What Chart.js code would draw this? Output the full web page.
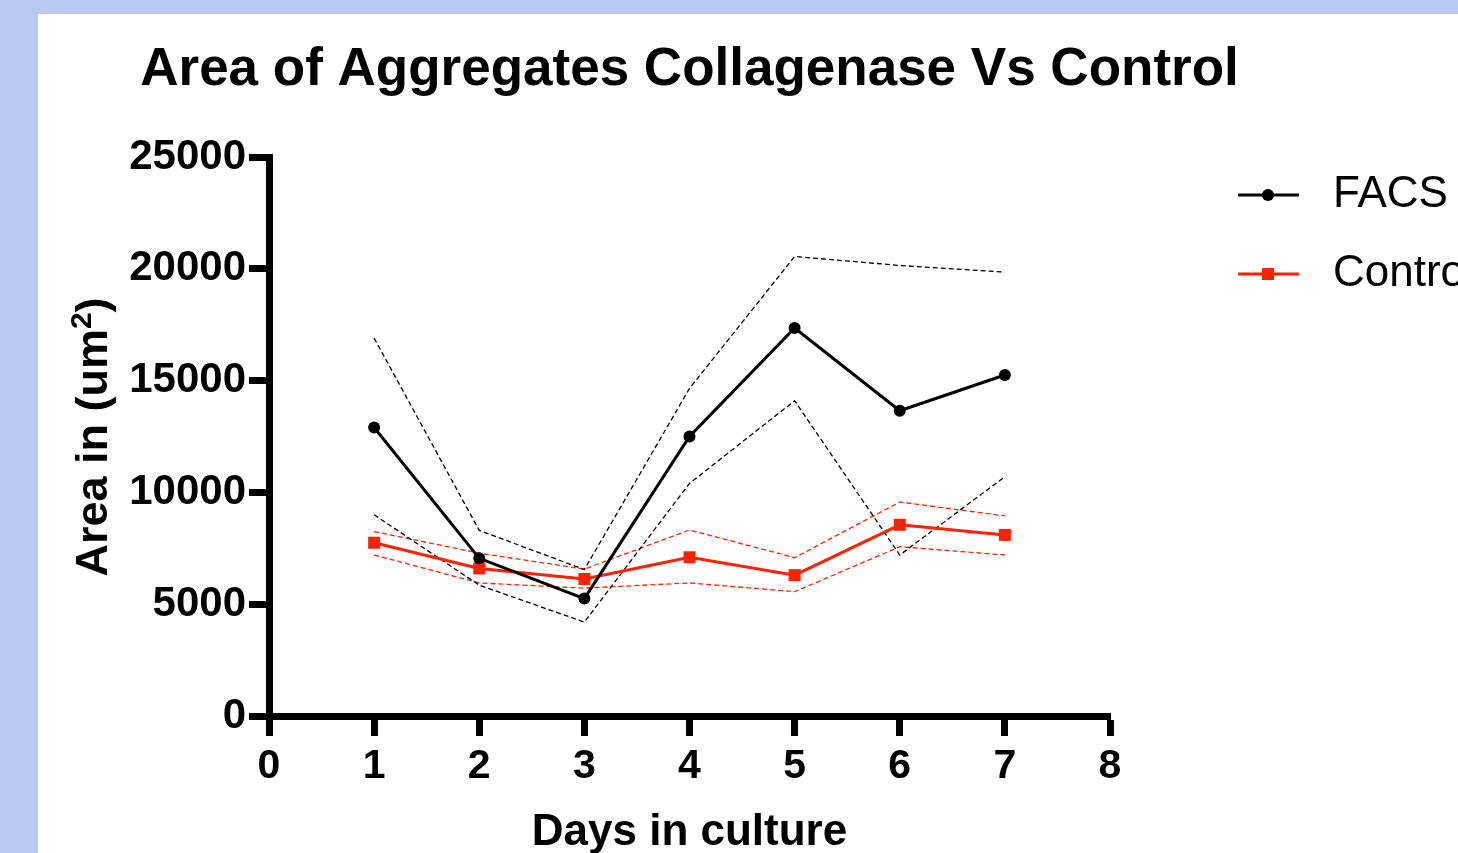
<!DOCTYPE html>
<html>
<head>
<meta charset="utf-8">
<script src="https://cdn.jsdelivr.net/npm/chart.js@4"></script>
<style>
  body { margin: 0; background: #b9c9f2; overflow: hidden; }
  canvas { display: block; }
</style>
</head>
<body>
<canvas id="aggChart" width="1458" height="853"></canvas>
<script>
// values
const days = [1, 2, 3, 4, 5, 6, 7];
const facsMean  = [12900, 7050, 5250, 12500, 17350, 13650, 15250];
const facsUpper = [16900, 8300, 6550, 14650, 20550, 20150, 19850];
const facsLower = [9000, 5850, 4200, 10400, 14100, 7200, 10700];
const ctrlMean  = [7750, 6600, 6130, 7100, 6300, 8550, 8100];
const ctrlUpper = [8250, 7280, 6570, 8320, 7080, 9570, 8950];
const ctrlLower = [7200, 5950, 5720, 5950, 5560, 7570, 7200];
const xTicks = [0, 1, 2, 3, 4, 5, 6, 7, 8];
const yTicks = [0, 5000, 10000, 15000, 20000, 25000];
const seriesNames = ['FACS', 'Control'];

const BLACK = '#000000';
const RED = '#ff2200';
const FONT = '"Liberation Sans", Arial, sans-serif';

function pts(arr) {
  return arr.map((v, i) => ({ x: days[i], y: v }));
}

function band(arr, color, order) {
  return {
    data: pts(arr),
    borderColor: color,
    borderWidth: 1.3,
    borderDash: [5, 3],
    pointRadius: 0,
    fill: false,
    order: order
  };
}

// background frame + titles + legend drawn by hand
const decor = {
  id: 'decor',
  beforeDraw(chart) {
    const c = chart.ctx;
    c.save();
    c.fillStyle = '#b9c9f2';
    c.fillRect(0, 0, chart.width, chart.height);
    c.fillStyle = '#ffffff';
    c.fillRect(38, 14, chart.width - 38, chart.height - 14);
    c.restore();
  },
  afterDraw(chart) {
    const c = chart.ctx;
    const area = chart.chartArea;
    const mid = (area.left + area.right) / 2;
    c.save();
    c.fillStyle = BLACK;
    c.textAlign = 'center';
    c.textBaseline = 'alphabetic';
    c.font = 'bold 53px ' + FONT;
    c.fillText('Area of Aggregates Collagenase Vs Control', mid, 85);

    c.font = 'bold 44px ' + FONT;
    c.fillText('Days in culture', mid, 845);

    // y title with superscript
    c.translate(107, 437);
    c.rotate(-Math.PI / 2);
    c.textAlign = 'left';
    const big = 'bold 45px ' + FONT;
    const small = 'bold 30px ' + FONT;
    c.font = big;
    const w1 = c.measureText('Area in (um').width;
    const w3 = c.measureText(')').width;
    c.font = small;
    const w2 = c.measureText('2').width;
    let x = -(w1 + w2 + w3) / 2;
    c.font = big;
    c.fillText('Area in (um', x, 0);
    x += w1;
    c.font = small;
    c.fillText('2', x, -16);
    x += w2;
    c.font = big;
    c.fillText(')', x, 0);
    c.restore();

    // legend
    const items = [
      { y: 195, color: BLACK, style: 'circle', name: seriesNames[0] },
      { y: 274, color: RED, style: 'rect', name: seriesNames[1] }
    ];
    c.save();
    items.forEach(it => {
      c.strokeStyle = it.color;
      c.fillStyle = it.color;
      c.lineWidth = 3;
      c.beginPath();
      c.moveTo(1238, it.y);
      c.lineTo(1299, it.y);
      c.stroke();
      if (it.style === 'circle') {
        c.beginPath();
        c.arc(1268, it.y, 6, 0, Math.PI * 2);
        c.fill();
      } else {
        c.fillRect(1262, it.y - 6, 12, 12);
      }
      c.fillStyle = BLACK;
      c.font = '44px ' + FONT;
      c.textBaseline = 'middle';
      c.textAlign = 'left';
      c.fillText(it.name, 1333, it.y);
    });
    c.restore();
  }
};

const axisGrid = { drawOnChartArea: false, drawTicks: true, tickLength: 20, tickWidth: 7, tickColor: BLACK };
const axisBorder = { display: true, width: 7, color: BLACK };

const chart = new Chart(document.getElementById('aggChart'), {
  type: 'line',
  data: {
    datasets: [
      {
        label: seriesNames[0],
        data: pts(facsMean),
        borderColor: BLACK,
        backgroundColor: BLACK,
        borderWidth: 3,
        pointStyle: 'circle',
        pointRadius: 6,
        pointBorderWidth: 0,
        order: 1
      },
      {
        label: seriesNames[1],
        data: pts(ctrlMean),
        borderColor: RED,
        backgroundColor: RED,
        borderWidth: 3,
        pointStyle: 'rect',
        pointRadius: 8.5,
        pointBorderWidth: 0,
        order: 2
      },
      band(facsUpper, BLACK, 3),
      band(facsLower, BLACK, 4),
      band(ctrlUpper, RED, 5),
      band(ctrlLower, RED, 6)
    ]
  },
  options: {
    responsive: false,
    animation: false,
    layout: { padding: { top: 157, left: 69, right: 348, bottom: 0 } },
    plugins: {
      legend: { display: false },
      tooltip: { enabled: false }
    },
    scales: {
      x: {
        type: 'linear',
        min: 0,
        max: 8,
        afterFit: s => { s.height = 137; },
        afterBuildTicks: s => { s.ticks = xTicks.map(v => ({ value: v })); },
        ticks: {
          color: BLACK,
          padding: 6,
          font: { family: FONT, size: 41, weight: 'bold' },
          callback: v => String(v)
        },
        grid: axisGrid,
        border: axisBorder
      },
      y: {
        min: 0,
        max: 25000,
        afterFit: s => { s.width = 200; },
        afterBuildTicks: s => { s.ticks = yTicks.map(v => ({ value: v })); },
        ticks: {
          color: BLACK,
          padding: 3,
          font: { family: FONT, size: 42, weight: 'bold' },
          callback: v => String(v)
        },
        grid: axisGrid,
        border: axisBorder
      }
    }
  },
  plugins: [decor]
});
</script>
</body>
</html>
